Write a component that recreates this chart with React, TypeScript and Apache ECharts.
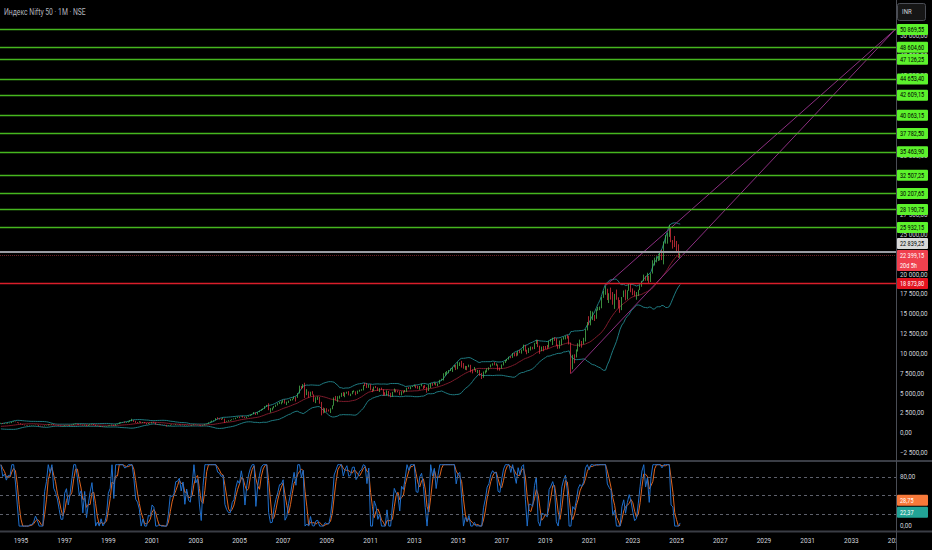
import React, { useEffect, useRef } from "react";
import * as echarts from "echarts";

// ---------- DATA ----------
const dataStart = { year: 1991, month: 7 }; // first month of the price history (indicator warm-up)
const viewStart = { year: 1994, month: 2 }; // first visible month
const viewEnd = { year: 2035, month: 1 }; // last visible month

const monthlyClose = [
  // 1991 (Jul-Dec)
  420, 480, 520, 560, 560, 590,
  // 1992
  640, 900, 1350, 1000, 930, 930, 960, 860, 930, 860, 800, 830,
  // 1993
  800, 800, 740, 650, 680, 700, 740, 800, 830, 850, 910, 1070,
  // 1994
  1220, 1280, 1220, 1250, 1220, 1280, 1280, 1410, 1470, 1410, 1340, 1250,
  // 1995
  1140, 1070, 1000, 1000, 990, 1000, 1000, 1020, 1060, 1030, 950, 910,
  // 1996
  880, 980, 985, 1120, 1090, 1150, 1050, 1030, 1000, 950, 900, 900,
  // 1997
  1000, 1020, 970, 1010, 1070, 1170, 1180, 1130, 1060, 1080, 980, 1080,
  // 1998
  940, 1040, 1100, 1150, 1060, 910, 930, 850, 880, 840, 850, 880,
  // 1999
  960, 980, 1080, 940, 1130, 1190, 1340, 1340, 1380, 1360, 1370, 1480,
  // 2000
  1550, 1600, 1530, 1400, 1380, 1470, 1330, 1380, 1270, 1170, 1270, 1260,
  // 2001
  1370, 1350, 1150, 1120, 1130, 1110, 1070, 1050, 910, 970, 1070, 1060,
  // 2002
  1075, 1140, 1130, 1085, 1030, 1060, 960, 1010, 960, 950, 1020, 1090,
  // 2003
  1040, 1050, 980, 930, 1010, 1130, 1180, 1360, 1420, 1560, 1620, 1880,
  // 2004
  1810, 1800, 1770, 1800, 1480, 1510, 1630, 1630, 1750, 1790, 1960, 2080,
  // 2005
  2060, 2100, 2040, 1900, 2090, 2220, 2310, 2380, 2600, 2370, 2650, 2840,
  // 2006
  3000, 3080, 3400, 3560, 3070, 3130, 3140, 3410, 3590, 3740, 3950, 3970,
  // 2007
  4080, 3750, 3820, 4090, 4300, 4320, 4530, 4460, 5020, 5900, 5760, 6140,
  // 2008
  5140, 5220, 4730, 5170, 4870, 4040, 4330, 4360, 3920, 2890, 2760, 2960,
  // 2009
  2870, 2760, 3020, 3470, 4450, 4290, 4640, 4660, 5080, 4710, 5030, 5200,
  // 2010
  4880, 4920, 5250, 5280, 5090, 5310, 5370, 5400, 6030, 6020, 5860, 6130,
  // 2011
  5510, 5330, 5830, 5750, 5560, 5650, 5480, 5000, 4940, 5330, 4830, 4620,
  // 2012
  5200, 5390, 5300, 5250, 4920, 5280, 5230, 5260, 5700, 5620, 5880, 5900,
  // 2013
  6030, 5690, 5680, 5930, 5990, 5840, 5740, 5470, 5740, 6300, 6180, 6300,
  // 2014
  6090, 6280, 6700, 6700, 7230, 7610, 7720, 7950, 7960, 8320, 8590, 8280,
  // 2015
  8810, 8900, 8490, 8180, 8430, 8370, 8530, 7970, 7950, 8070, 7940, 7950,
  // 2016
  7560, 6990, 7740, 7850, 8160, 8290, 8640, 8790, 8610, 8630, 8220, 8190,
  // 2017
  8560, 8880, 9170, 9300, 9620, 9520, 10080, 9920, 9790, 10340, 10230, 10530,
  // 2018
  11030, 10490, 10110, 10740, 10740, 10710, 11360, 11680, 10930, 10390, 10880, 10860,
  // 2019
  10830, 10790, 11620, 11750, 11920, 11790, 11120, 11020, 11470, 11880, 12060, 12170,
  // 2020
  11960, 11200, 8600, 9860, 9580, 10300, 11070, 11390, 11250, 11640, 12970, 13980,
  // 2021
  13630, 14530, 14690, 14630, 15580, 15720, 15760, 17130, 17620, 17670, 16980, 17350,
  // 2022
  17340, 16790, 17460, 17100, 16580, 15780, 17160, 17760, 17090, 18010, 18760, 18110,
  // 2023
  17660, 17300, 17360, 18070, 18530, 19190, 19750, 19250, 19640, 19080, 20130, 21730,
  // 2024
  21730, 21980, 22330, 22600, 22530, 24010, 24950, 25240, 25810, 24210, 24130, 23640,
  // 2025 (Jan-Mar)
  23510, 22120, 22399.15,
];

const monthlyHigh = [
  440, 500, 540, 580, 590, 600,
  660, 920, 1380, 1430, 1080, 990, 990, 980, 950, 940, 870, 850,
  850, 840, 810, 760, 700, 730, 750, 810, 850, 870, 930, 1080,
  1230, 1310, 1300, 1270, 1260, 1300, 1310, 1420, 1500, 1480, 1420, 1350,
  1260, 1150, 1080, 1030, 1040, 1020, 1030, 1040, 1070, 1070, 1040, 960,
  940, 990, 1010, 1130, 1150, 1170, 1150, 1060, 1040, 1010, 960, 920,
  1010, 1060, 1050, 1030, 1080, 1180, 1230, 1200, 1140, 1100, 1080, 1090,
  1090, 1050, 1120, 1180, 1170, 1080, 960, 940, 920, 900, 870, 900,
  980, 1000, 1090, 1080, 1140, 1200, 1360, 1380, 1400, 1480, 1400, 1490,
  1630, 1820, 1660, 1560, 1420, 1510, 1480, 1410, 1420, 1290, 1290, 1330,
  1390, 1440, 1370, 1160, 1180, 1140, 1110, 1090, 1060, 1000, 1080, 1110,
  1080, 1170, 1160, 1150, 1090, 1080, 1070, 1010, 1010, 970, 1030, 1120,
  1100, 1070, 1070, 1010, 1010, 1140, 1210, 1370, 1470, 1590, 1640, 1900,
  2010, 1890, 1860, 1920, 1850, 1560, 1640, 1670, 1760, 1860, 1960, 2090,
  2100, 2110, 2180, 2070, 2100, 2230, 2330, 2390, 2670, 2620, 2670, 2850,
  3020, 3100, 3420, 3570, 3770, 3170, 3230, 3430, 3600, 3800, 3970, 4000,
  4170, 4250, 3980, 4110, 4320, 4350, 4620, 4560, 5060, 6000, 5950, 6190,
  6360, 5550, 5270, 5230, 5300, 4900, 4540, 4650, 4560, 3950, 3240, 3150,
  3150, 2990, 3140, 3520, 4510, 4700, 4670, 4740, 5090, 5180, 5140, 5230,
  5310, 4990, 5330, 5400, 5280, 5370, 5480, 5550, 6070, 6340, 6340, 6150,
  6180, 5600, 5870, 5950, 5780, 5680, 5740, 5550, 5170, 5400, 5330, 5100,
  5220, 5630, 5500, 5380, 5280, 5290, 5350, 5450, 5740, 5820, 5890, 5970,
  6110, 6050, 5970, 5960, 6230, 5990, 6090, 5810, 6140, 6310, 6340, 6420,
  6360, 6290, 6730, 6870, 7560, 7700, 7840, 7970, 8180, 8330, 8620, 8630,
  8990, 8940, 9120, 8840, 8490, 8470, 8650, 8620, 8060, 8340, 8120, 7980,
  7970, 7600, 7780, 7920, 8170, 8310, 8670, 8820, 8970, 8810, 8670, 8270,
  8670, 8980, 9220, 9370, 9650, 9710, 10110, 10140, 10180, 10380, 10490, 10550,
  11170, 11120, 10530, 10760, 10930, 10890, 11390, 11760, 11750, 11040, 10920, 10990,
  10990, 11120, 11630, 11860, 12040, 12100, 11980, 11180, 11690, 11950, 12160, 12290,
  12430, 12250, 11430, 9890, 9950, 10560, 11340, 11800, 11620, 12030, 13150, 14020,
  14750, 15430, 15340, 14900, 15610, 15920, 15960, 17150, 17950, 18600, 18210, 17640,
  18350, 17790, 17560, 18110, 17130, 16790, 17170, 17990, 18100, 18020, 18820, 18890,
  18250, 17970, 17800, 18090, 18660, 19200, 19990, 19800, 20220, 19850, 20160, 21800,
  22130, 22300, 22530, 22790, 23110, 24170, 24990, 25270, 26280, 25910, 24350, 24860,
  24230, 23810, 22680,
];

const monthlyLow = [
  380, 415, 470, 510, 540, 550,
  580, 630, 890, 940, 880, 860, 900, 840, 850, 850, 780, 780,
  780, 760, 720, 620, 640, 670, 690, 730, 790, 810, 840, 900,
  1060, 1190, 1170, 1180, 1190, 1200, 1240, 1270, 1400, 1390, 1320, 1230,
  1120, 1050, 970, 960, 960, 960, 980, 990, 1010, 1010, 900, 880,
  850, 870, 950, 980, 1060, 1080, 1020, 1000, 990, 940, 880, 870,
  880, 990, 960, 940, 1000, 1050, 1130, 1080, 1040, 1040, 970, 960,
  880, 920, 1020, 1090, 1020, 890, 880, 830, 840, 800, 800, 830,
  870, 930, 970, 920, 940, 1100, 1180, 1260, 1320, 1310, 1300, 1350,
  1440, 1510, 1430, 1300, 1270, 1350, 1300, 1290, 1250, 1110, 1160, 1230,
  1240, 1310, 1100, 1060, 1100, 1060, 1060, 1030, 850, 910, 960, 1040,
  1040, 1060, 1110, 1060, 990, 1020, 950, 950, 950, 920, 940, 1010,
  1030, 1010, 970, 920, 930, 1000, 1120, 1180, 1330, 1420, 1520, 1620,
  1760, 1720, 1670, 1760, 1290, 1440, 1480, 1560, 1630, 1740, 1770, 1930,
  1900, 2040, 1970, 1900, 1900, 2080, 2180, 2260, 2380, 2310, 2360, 2650,
  2830, 2950, 3070, 3310, 2900, 2600, 2880, 3130, 3320, 3500, 3700, 3650,
  3850, 3740, 3550, 3820, 4070, 4130, 4300, 4000, 4460, 5010, 5550, 5670,
  4450, 4800, 4470, 4650, 4870, 3960, 3790, 4200, 3720, 2250, 2500, 2570,
  2680, 2740, 2540, 3020, 3460, 4140, 3920, 4350, 4580, 4690, 4540, 4980,
  4770, 4680, 4920, 5160, 4790, 4960, 5230, 5350, 5400, 5940, 5690, 5720,
  5420, 5180, 5320, 5690, 5330, 5200, 5450, 4720, 4760, 4730, 4640, 4530,
  4590, 5160, 5140, 5150, 4790, 4770, 5030, 5160, 5220, 5580, 5550, 5820,
  5880, 5670, 5600, 5480, 5910, 5570, 5680, 5120, 5320, 5700, 5970, 6130,
  6000, 5930, 6210, 6650, 6640, 7220, 7420, 7550, 7840, 7720, 8290, 7960,
  8060, 8470, 8270, 8140, 7990, 7940, 8320, 7670, 7540, 7930, 7710, 7550,
  7240, 6830, 6990, 7520, 7680, 7930, 8290, 8520, 8560, 8510, 7920, 7890,
  8130, 8540, 8860, 9080, 9270, 9450, 9500, 9690, 9690, 9780, 10090, 10030,
  10400, 10280, 9950, 10110, 10420, 10560, 10600, 11240, 10850, 10000, 10340, 10330,
  10580, 10590, 10780, 11550, 11110, 11630, 10990, 10640, 10670, 11090, 11800, 11830,
  11930, 11180, 7510, 8060, 8810, 9540, 10300, 10880, 10790, 11190, 11560, 12960,
  13600, 13600, 14260, 14150, 14420, 15450, 15510, 15750, 17060, 17450, 16780, 16410,
  16840, 16200, 15670, 16820, 15740, 15180, 15510, 17150, 16750, 16860, 17960, 17770,
  17400, 17260, 16830, 17310, 18040, 18460, 19170, 19220, 19220, 18840, 19050, 20120,
  21140, 21530, 21710, 21780, 21820, 21280, 23890, 23890, 24750, 24070, 23260, 23460,
  22790, 22100, 21960,
];

// horizontal levels drawn on the chart
const greenLevels = [
  50869.55, 48604.6, 47126.25, 44653.4, 42609.15, 40063.15, 37782.5, 35463.9, 32507.25, 30207.65, 28190.75,
  25932.15,
];
const greyLevel = 22839.25;
const redLevel = 18873.8;
const countdownText = "20d 5h";

// trend channel anchors [month, price]
const channelLowLine: [string, number][] = [
  ["2020-03", 7511.1],
  ["2035-01", 50869.55],
];
const channelHighLine: [string, number][] = [
  ["2021-10", 18604.45],
  ["2035-01", 50869.55],
];

// oscillator
const stochLevels = [80, 50, 20];
const stochLastK = 22.37;
const stochLastD = 28.75;

const titleText = "Индекс Nifty 50 · 1M · NSE";
const currencyText = "INR";

// ---------- STYLE ----------
const FONT = "Roboto, 'Liberation Sans', sans-serif";
const TXT = "#d1d4dc";
const UP = "#52c957";
const DOWN = "#f23645";
const GREEN_LINE = "#46b61f";
const GREEN_BOX = "#5cf22c";
const BB_BAND = "#1f7a80";
const BB_BASIS = "#7d1b2b";
const CHANNEL = "#8c2f80";
const K_COLOR = "#1f6fcc";
const D_COLOR = "#e0651e";
const SEP = "#3a3d45";
const NARROW = 0.74; // horizontal squeeze of the price-scale texts

// ---------- HELPERS ----------
const key = (y: number, m: number) => `${y}-${String(m).padStart(2, "0")}`;
const monthIndex = (p: { year: number; month: number }) => p.year * 12 + (p.month - 1);

function fmt(v: number) {
  const neg = v < 0;
  const [i, d] = Math.abs(v).toFixed(2).split(".");
  const g = i.replace(/\B(?=(\d{3})+(?!\d))/g, " ");
  return (neg ? "\u2212" : "") + g + "," + d;
}

function sma(src: (number | null)[], n: number): (number | null)[] {
  return src.map((_, i) => {
    if (i < n - 1) return null;
    let s = 0;
    for (let j = i - n + 1; j <= i; j++) {
      const v = src[j];
      if (v == null) return null;
      s += v;
    }
    return s / n;
  });
}

function stdev(src: number[], n: number): (number | null)[] {
  return src.map((_, i) => {
    if (i < n - 1) return null;
    const w = src.slice(i - n + 1, i + 1);
    const m = w.reduce((a, b) => a + b, 0) / n;
    return Math.sqrt(w.reduce((a, b) => a + (b - m) * (b - m), 0) / n);
  });
}

function rsi(src: number[], n: number): (number | null)[] {
  const out: (number | null)[] = src.map(() => null);
  let up = 0;
  let dn = 0;
  const val = () => (dn === 0 ? 100 : up === 0 ? 0 : 100 - 100 / (1 + up / dn));
  for (let i = 1; i < src.length; i++) {
    const ch = src[i] - src[i - 1];
    const u = Math.max(ch, 0);
    const d = Math.max(-ch, 0);
    if (i <= n) {
      up += u;
      dn += d;
      if (i === n) {
        up /= n;
        dn /= n;
        out[i] = val();
      }
    } else {
      up = (up * (n - 1) + u) / n;
      dn = (dn * (n - 1) + d) / n;
      out[i] = val();
    }
  }
  return out;
}

function stoch(src: (number | null)[], n: number): (number | null)[] {
  let prev: number | null = null;
  return src.map((v, i) => {
    if (v == null || i < n - 1) return null;
    const w = src.slice(i - n + 1, i + 1);
    if (w.some((x) => x == null)) return null;
    const lo = Math.min(...(w as number[]));
    const hi = Math.max(...(w as number[]));
    const r = hi === lo ? (prev ?? 50) : ((v - lo) / (hi - lo)) * 100;
    prev = r;
    return r;
  });
}

// ---------- DERIVED ----------
const categories: string[] = [];
for (let t = monthIndex(viewStart); t <= monthIndex(viewEnd); t++) {
  categories.push(key(Math.floor(t / 12), (t % 12) + 1));
}
const offset = monthIndex(viewStart) - monthIndex(dataStart);

const basis = sma(monthlyClose, 20);
const dev = stdev(monthlyClose, 20);
const upper = basis.map((b, i) => (b == null ? null : b + 2 * (dev[i] as number)));
const lower = basis.map((b, i) => (b == null ? null : b - 2 * (dev[i] as number)));
const rsiVals = rsi(monthlyClose, 14);
const kVals = stoch(rsiVals, 14);
const dVals = sma(kVals, 3);

const toView = (arr: (number | null)[]) =>
  categories.map((_, c) => {
    const i = c + offset;
    return i < arr.length && arr[i] != null ? +(arr[i] as number).toFixed(2) : null;
  });

const candles = categories.map((_, c) => {
  const i = c + offset;
  if (i >= monthlyClose.length) return "-";
  const o = i > 0 ? monthlyClose[i - 1] : monthlyClose[i];
  const cl = monthlyClose[i];
  const lo = Math.min(monthlyLow[i], o, cl);
  const hi = Math.max(monthlyHigh[i], o, cl);
  return [o, cl, lo, hi];
});
const lastClose = monthlyClose[monthlyClose.length - 1];

function priceLabel(hiddenTicks: Set<number>) {
  return (v: number) => {
    const r = Math.round(v);
    if (Math.abs(v % 2500) > 1e-6 || hiddenTicks.has(r)) return "";
    return fmt(v);
  };
}

function buildOption(): any {
  const hidden = { show: false };
  return {
    animation: false,
    backgroundColor: "#000000",
    textStyle: { fontFamily: FONT },
    grid: [
      { left: 0, top: 0, width: 896, height: 461 },
      { left: 0, top: 461, width: 896, height: 70 },
    ],
    xAxis: [
      {
        type: "category",
        gridIndex: 0,
        data: categories,
        boundaryGap: true,
        axisLine: hidden,
        axisTick: hidden,
        axisLabel: hidden,
        splitLine: hidden,
      },
      {
        type: "category",
        gridIndex: 1,
        data: categories,
        boundaryGap: true,
        axisLine: hidden,
        axisTick: hidden,
        splitLine: hidden,
        axisLabel: {
          color: TXT,
          fontSize: 6.5,
          fontFamily: FONT,
          margin: 6,
          interval: (_i: number, v: string) => v.endsWith("-01") && Number(v.slice(0, 4)) % 2 === 1,
          formatter: (v: string) => v.slice(0, 4),
        },
      },
    ],
    yAxis: [
      {
        type: "value",
        gridIndex: 0,
        position: "right",
        min: -3500,
        max: 54600,
        interval: 500,
        axisLine: hidden,
        axisTick: hidden,
        splitLine: hidden,
        axisLabel: {
          color: TXT,
          fontSize: 6.3,
          fontFamily: FONT,
          margin: 4,
          formatter: priceLabel(new Set()),
        },
      },
      {
        type: "value",
        gridIndex: 1,
        position: "right",
        min: -8,
        max: 106,
        interval: 4,
        axisLine: hidden,
        axisTick: hidden,
        splitLine: hidden,
        axisLabel: {
          color: TXT,
          fontSize: 6.3,
          fontFamily: FONT,
          margin: 4,
          formatter: (v: number) => (Math.abs(v - 80) < 1e-6 || Math.abs(v) < 1e-6 ? fmt(v) : ""),
        },
      },
    ],
    series: [
      {
        name: "BB upper",
        type: "line",
        xAxisIndex: 0,
        yAxisIndex: 0,
        data: toView(upper),
        symbol: "none",
        lineStyle: { color: BB_BAND, width: 1 },
        z: 1,
      },
      {
        name: "BB lower",
        type: "line",
        xAxisIndex: 0,
        yAxisIndex: 0,
        data: toView(lower),
        symbol: "none",
        lineStyle: { color: BB_BAND, width: 1 },
        z: 1,
      },
      {
        name: "BB basis",
        type: "line",
        xAxisIndex: 0,
        yAxisIndex: 0,
        data: toView(basis),
        symbol: "none",
        lineStyle: { color: BB_BASIS, width: 1 },
        z: 1,
      },
      {
        name: "Nifty",
        type: "candlestick",
        xAxisIndex: 0,
        yAxisIndex: 0,
        data: candles,
        barWidth: 1,
        itemStyle: {
          color: UP,
          color0: DOWN,
          borderColor: UP,
          borderColor0: DOWN,
          borderWidth: 0.7,
        },
        z: 3,
        markLine: {
          silent: true,
          symbol: ["none", "none"],
          label: { show: false },
          data: [
            ...greenLevels.map((v) => ({ yAxis: v, lineStyle: { color: GREEN_LINE, width: 1.3, type: "solid" } })),
            { yAxis: greyLevel, lineStyle: { color: "#9a9ca3", width: 2, type: "solid" } },
            { yAxis: lastClose, lineStyle: { color: "#6b1f24", width: 1, type: "dotted" } },
            { yAxis: redLevel, lineStyle: { color: "#d91e2a", width: 1.4, type: "solid" } },
          ],
        },
      },
      {
        name: "Channel low",
        type: "line",
        xAxisIndex: 0,
        yAxisIndex: 0,
        data: channelLowLine,
        symbol: "none",
        lineStyle: { color: CHANNEL, width: 1 },
        z: 4,
      },
      {
        name: "Channel high",
        type: "line",
        xAxisIndex: 0,
        yAxisIndex: 0,
        data: channelHighLine,
        symbol: "none",
        lineStyle: { color: CHANNEL, width: 1 },
        z: 4,
      },
      {
        name: "Stoch RSI D",
        type: "line",
        xAxisIndex: 1,
        yAxisIndex: 1,
        data: toView(dVals),
        symbol: "none",
        lineStyle: { color: D_COLOR, width: 1 },
        z: 3,
        markLine: {
          silent: true,
          symbol: ["none", "none"],
          label: { show: false },
          lineStyle: { color: "#5d606b", width: 1, type: [3, 3] },
          data: stochLevels.map((v) => ({ yAxis: v })),
        },
      },
      {
        name: "Stoch RSI K",
        type: "line",
        xAxisIndex: 1,
        yAxisIndex: 1,
        data: toView(kVals),
        symbol: "none",
        lineStyle: { color: K_COLOR, width: 1 },
        z: 4,
      },
    ],
  };
}

type Box = { anchor: number; lines: string[]; bg: string; fg: string; top?: number; h?: number };
const LINE_H = 11;

function stackBoxes(boxes: Box[]) {
  const sorted = [...boxes].sort((a, b) => b.anchor - a.anchor);
  let prevTop = Infinity;
  for (const b of sorted) {
    const h = b.lines.length * (LINE_H - 1) + 1;
    let top = b.anchor - LINE_H / 2;
    if (top + h > prevTop - 1) top = prevTop - 1 - h;
    b.top = top;
    b.h = h;
    prevTop = top;
  }
  return sorted;
}

function buildGraphics(chart: echarts.ECharts) {
  const py = (v: number, axis: number) => chart.convertToPixel({ yAxisIndex: axis }, v) as number;
  const priceBoxes = stackBoxes([
    ...greenLevels.map((v) => ({ anchor: py(v, 0), lines: [fmt(v)], bg: GREEN_BOX, fg: "#000000" })),
    { anchor: py(greyLevel, 0), lines: [fmt(greyLevel)], bg: "#d9d9d9", fg: "#000000" },
    { anchor: py(lastClose, 0), lines: [fmt(lastClose), countdownText], bg: "#f0404e", fg: "#ffffff" },
    { anchor: py(redLevel, 0), lines: [fmt(redLevel)], bg: "#e3131f", fg: "#ffffff" },
  ]);
  const stochBoxes = stackBoxes([
    { anchor: py(stochLastK, 1), lines: [fmt(stochLastK)], bg: "#22a396", fg: "#ffffff" },
    { anchor: py(stochLastD, 1), lines: [fmt(stochLastD)], bg: "#f7793a", fg: "#ffffff" },
  ]);

  const els: any[] = [];
  for (const b of [...priceBoxes, ...stochBoxes]) {
    els.push({
      type: "rect",
      z: 100,
      shape: { x: 897, y: b.top, width: 31, height: b.h, r: 1 },
      style: { fill: b.bg },
    });
    b.lines.forEach((t, j) => {
      els.push({
        type: "text",
        z: 101,
        x: 900,
        y: (b.top as number) + LINE_H / 2 + j * (LINE_H - 1),
        scaleX: NARROW,
        style: { text: t, fill: b.fg, fontSize: 7.5, fontFamily: FONT, verticalAlign: "middle", align: "left" },
      });
    });
  }

  // pane separators & price-scale border
  const currencyBox = { top: 3.5, h: 17 };
  els.push(
    { type: "line", z: 90, shape: { x1: 0, y1: 461, x2: 932, y2: 461 }, style: { stroke: SEP, lineWidth: 2 } },
    { type: "line", z: 90, shape: { x1: 0, y1: 531.5, x2: 932, y2: 531.5 }, style: { stroke: SEP, lineWidth: 2 } },
    { type: "rect", z: 95, shape: { x: 897, y: 533, width: 35, height: 17 }, style: { fill: "#000000" } },
    { type: "line", z: 96, shape: { x1: 896.5, y1: 0, x2: 896.5, y2: 550 }, style: { stroke: "#4a4d55", lineWidth: 1 } },
    {
      type: "rect",
      z: 100,
      shape: { x: 897.5, y: currencyBox.top, width: 28, height: currencyBox.h, r: 2 },
      style: { fill: "#161616", stroke: "#4a4d55", lineWidth: 1 },
    },
    {
      type: "text",
      z: 101,
      x: 902,
      y: 12,
      scaleX: NARROW + 0.06,
      style: { text: currencyText, fill: TXT, fontSize: 7.5, fontFamily: FONT, verticalAlign: "middle" },
    },
    {
      type: "text",
      z: 101,
      x: 4,
      y: 12,
      scaleX: 0.8,
      style: { text: titleText, fill: "#b2b5be", fontSize: 8.5, fontFamily: FONT, verticalAlign: "middle" },
    }
  );

  // price-scale ticks that sit (almost) entirely under a label box are not drawn
  const covers = [...priceBoxes.map((b) => ({ top: b.top as number, h: b.h as number })), currencyBox];
  const hiddenTicks = new Set<number>();
  for (let v = -2500; v <= 52500; v += 2500) {
    const y = py(v, 0);
    if (covers.some((c) => y > c.top + 3 && y < c.top + c.h - 3)) hiddenTicks.add(v);
  }
  return { els, hiddenTicks };
}

export default function App() {
  const ref = useRef<HTMLDivElement>(null);
  useEffect(() => {
    const el = ref.current as HTMLDivElement;
    const chart = echarts.init(el, null, { renderer: "svg" });
    chart.setOption(buildOption());
    const { els, hiddenTicks } = buildGraphics(chart);
    chart.setOption({
      graphic: els,
      yAxis: [{ axisLabel: { formatter: priceLabel(hiddenTicks) } }, {}],
    });
    return () => chart.dispose();
  }, []);
  return (
    <div
      ref={ref}
      style={{ position: "fixed", left: 0, top: 0, width: 932, height: 550, background: "#000000" }}
    />
  );
}
